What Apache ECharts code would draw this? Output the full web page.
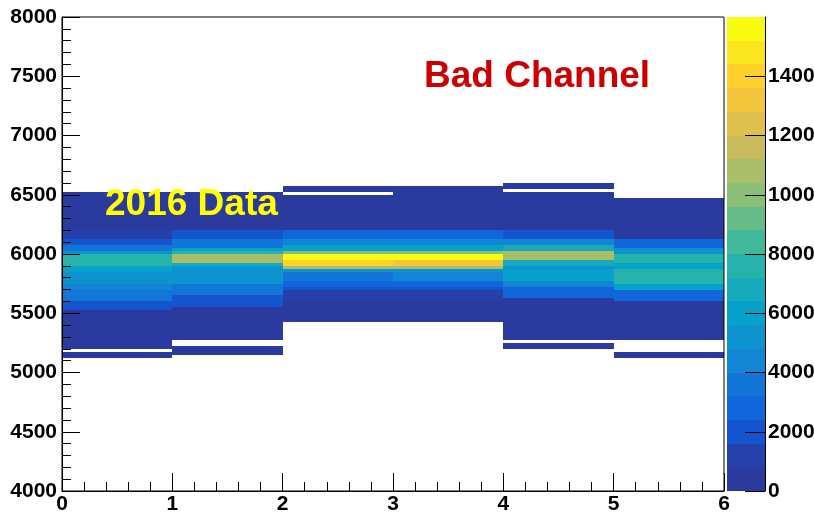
<!DOCTYPE html>
<html>
<head>
<meta charset="utf-8">
<script src="https://cdn.jsdelivr.net/npm/echarts@6/dist/echarts.min.js"></script>
<style>
html,body{margin:0;padding:0;background:#fff;}
#chart{width:814px;height:512px;}
</style>
</head>
<body>
<div id="chart"></div>
<script>
// X bins (channel columns)
const xBins = [0, 1, 2, 3, 4, 5];
const xTicks = [0, 1, 2, 3, 4, 5, 6];
const yTicks = [4000, 4500, 5000, 5500, 6000, 6500, 7000, 7500, 8000];
const zTicks = [0, 2000, 4000, 6000, 8000, 10000, 12000, 14000];
const zMax = 16000;
const zStep = 800; // 20 contour levels

// Each column: [yLow, yHigh, count] runs of bins
const col0 = [
  [5125, 5175, 300], [5200, 5525, 350], [5525, 5600, 2000], [5600, 5700, 3200],
  [5700, 5750, 4400], [5750, 5850, 5300], [5850, 5900, 6000], [5900, 6000, 7700],
  [6000, 6025, 5000], [6025, 6075, 3500], [6075, 6125, 2100], [6125, 6200, 1000],
  [6200, 6525, 350]
];
const col1 = [
  [5150, 5225, 300], [5275, 5550, 350], [5550, 5650, 2200], [5650, 5750, 3500],
  [5750, 5900, 5300], [5900, 5925, 7000], [5925, 6000, 10800], [6000, 6025, 7200],
  [6025, 6050, 6000], [6050, 6125, 3300], [6125, 6200, 2000], [6200, 6525, 350]
];
const col2 = [
  [5425, 5600, 350], [5600, 5700, 900], [5700, 5725, 1800], [5725, 5775, 2600],
  [5775, 5850, 3800], [5850, 5875, 5200], [5875, 5900, 10800], [5900, 5950, 13600],
  [5950, 6000, 15400], [6000, 6025, 10000], [6025, 6075, 6200], [6075, 6125, 4400],
  [6125, 6200, 2500], [6200, 6500, 350], [6525, 6575, 300]
];
const col3 = [
  [5425, 5600, 350], [5600, 5700, 1000], [5700, 5725, 1900], [5725, 5775, 2800],
  [5775, 5850, 4000], [5850, 5875, 5400], [5875, 5900, 10500], [5900, 5950, 13400],
  [5950, 6000, 15200], [6000, 6025, 9800], [6025, 6075, 6000], [6075, 6125, 4200],
  [6125, 6200, 2400], [6200, 6575, 350]
];
const col4 = [
  [5200, 5250, 300], [5275, 5625, 350], [5625, 5725, 2700], [5725, 5775, 4200],
  [5775, 5875, 6000], [5875, 5900, 5200], [5900, 5950, 6800], [5950, 6025, 10800],
  [6025, 6075, 6800], [6075, 6125, 4200], [6125, 6200, 2000], [6200, 6525, 350],
  [6550, 6600, 300]
];
const col5 = [
  [5125, 5175, 300], [5275, 5600, 350], [5600, 5700, 2700], [5700, 5750, 5800],
  [5750, 5875, 7600], [5875, 5925, 5800], [5925, 6000, 7600], [6000, 6050, 5200],
  [6050, 6125, 2600], [6125, 6475, 350]
];
const columns = [col0, col1, col2, col3, col4, col5];

const palette = [
  '#2b3a9e', '#253fab', '#1554cf', '#1066db', '#1275d8', '#1385d5', '#0d93d0',
  '#07a2cb', '#15abbc', '#26b3ac', '#41b99b', '#66bc88', '#8bbf75', '#aabd69',
  '#c9bb5c', '#dfbf4d', '#f2c53c', '#fdd02c', '#fbe61d', '#f9fb0e'
];

function colorFor(c) {
  const lvl = Math.max(0, Math.min(palette.length - 1, Math.floor(c / zStep)));
  return palette[lvl];
}

const histData = [];
columns.forEach((col, i) => {
  col.forEach(r => histData.push([xBins[i], r[0], r[1], r[2]]));
});
const barData = palette.map((c, i) => [0, i * zStep, (i + 1) * zStep, i]);

const FONT = "'Liberation Sans', Arial, Helvetica, sans-serif";
const lbl = { color: '#000', fontFamily: FONT, fontWeight: 'bold', fontSize: 21, formatter: v => String(v) };

function rectItem(api, x, lo, hi, fill) {
  const p0 = api.coord([x, hi]);
  const p1 = api.coord([x + 1, lo]);
  const x0 = Math.round(p0[0]), x1 = Math.round(p1[0]);
  const y0 = Math.round(p0[1]), y1 = Math.round(p1[1]);
  return {
    type: 'rect',
    shape: { x: x0, y: y0, width: x1 - x0, height: y1 - y0 },
    style: { fill: fill, stroke: null }
  };
}

const chart = echarts.init(document.getElementById('chart'), null, { renderer: 'canvas' });
chart.setOption({
  animation: false,
  backgroundColor: '#fff',
  grid: [
    { left: 62, top: 17, width: 662, height: 474, show: true, borderColor: '#000', borderWidth: 1, z: 5,
      containLabel: false, outerBoundsMode: 'none' },
    { left: 727, top: 17, width: 38, height: 474, show: false,
      containLabel: false, outerBoundsMode: 'none' }
  ],
  xAxis: [
    {
      gridIndex: 0, type: 'value', min: 0, max: 6, interval: 1, z: 10,
      axisLine: { onZero: false, lineStyle: { color: '#000', width: 1 } },
      axisTick: { inside: true, length: 18, lineStyle: { color: '#000' } },
      minorTick: { show: true, splitNumber: 5, length: 9, lineStyle: { color: '#000' } },
      axisLabel: Object.assign({ margin: 3 }, lbl, { customValues: xTicks }),
      splitLine: { show: false }
    },
    { gridIndex: 1, type: 'value', min: 0, max: 1, show: false }
  ],
  yAxis: [
    {
      gridIndex: 0, type: 'value', min: 4000, max: 8000, interval: 500, z: 10,
      axisLine: { show: true, onZero: false, lineStyle: { color: '#000', width: 1 } },
      axisTick: { inside: true, length: 18, lineStyle: { color: '#000' } },
      minorTick: { show: true, splitNumber: 5, length: 9, lineStyle: { color: '#000' } },
      axisLabel: Object.assign({ margin: 5 }, lbl, { customValues: yTicks }),
      splitLine: { show: false }
    },
    {
      gridIndex: 1, type: 'value', min: 0, max: zMax, position: 'right', z: 10,
      axisLine: { show: true, onZero: false, lineStyle: { color: '#000', width: 1 } },
      axisTick: { inside: true, length: 20, lineStyle: { color: '#000' }, customValues: zTicks },
      axisLabel: Object.assign({ margin: 3 }, lbl, { customValues: zTicks }),
      splitLine: { show: false }
    }
  ],
  series: [
    {
      type: 'custom', xAxisIndex: 0, yAxisIndex: 0, z: 2,
      data: histData,
      renderItem: function (params, api) {
        return rectItem(api, api.value(0), api.value(1), api.value(2), colorFor(api.value(3)));
      }
    },
    {
      type: 'custom', xAxisIndex: 1, yAxisIndex: 1, z: 2,
      data: barData,
      renderItem: function (params, api) {
        return rectItem(api, 0, api.value(1), api.value(2), palette[api.value(3)]);
      }
    }
  ],
  graphic: [
    {
      type: 'text', left: 424, top: 58, z: 20,
      style: { text: 'Bad Channel', fill: '#cc0000', font: "bold 37px " + FONT }
    },
    {
      type: 'text', left: 105, top: 186, z: 20,
      style: { text: '2016 Data', fill: '#ffff00', font: "bold 37px " + FONT }
    }
  ]
});
</script>
</body>
</html>
